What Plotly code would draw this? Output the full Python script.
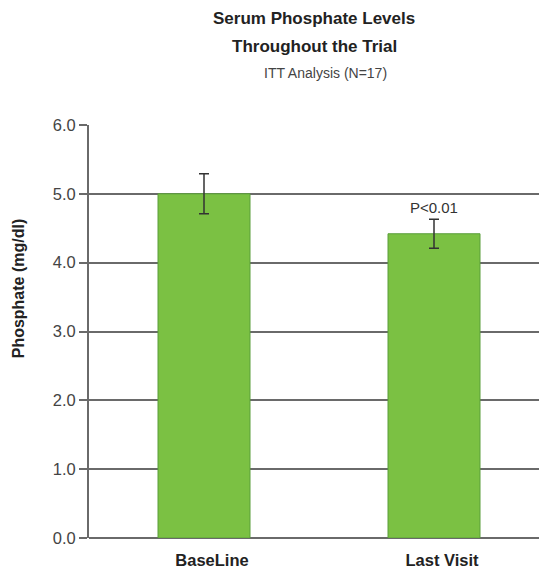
import plotly.graph_objects as go

categories = ["BaseLine", "Last Visit"]
values = [5.0, 4.42]
errors = [0.29, 0.21]
tick_vals = [0, 1, 2, 3, 4, 5, 6]
tick_text = ["0.0", "1.0", "2.0", "3.0", "4.0", "5.0", "6.0"]
p_label = "P<0.01"
title_lines = ["Serum Phosphate Levels", "Throughout the Trial", "ITT Analysis (N=17)"]
y_title = "Phosphate (mg/dl)"

FONT = "Liberation Sans, Arial, Helvetica, sans-serif"

fig = go.Figure()
fig.add_trace(go.Bar(
    x=categories, y=values, width=0.4,
    marker=dict(color="#7bc143", line=dict(color="#5a9e3a", width=1)),
    error_y=dict(type="data", array=errors, visible=True, color="#333333",
                 thickness=1.5, width=5),
))
fig.add_annotation(x=categories[1], y=values[1] + errors[1], text=p_label,
                   showarrow=False, yanchor="bottom", yshift=1,
                   font=dict(family=FONT, size=15, color="#333333"))

# title lines
fig.add_annotation(xref="paper", yref="paper", x=0.49, y=1.259, text="<b>" + title_lines[0] + "</b>",
                   showarrow=False, xanchor="center", yanchor="middle",
                   font=dict(family=FONT, size=17, color="#222222"))
fig.add_annotation(xref="paper", yref="paper", x=0.49, y=1.189, text="<b>" + title_lines[1] + "</b>",
                   showarrow=False, xanchor="center", yanchor="middle",
                   font=dict(family=FONT, size=17, color="#222222"))
fig.add_annotation(xref="paper", yref="paper", x=0.515, y=1.126, text=title_lines[2],
                   showarrow=False, xanchor="center", yanchor="middle",
                   font=dict(family=FONT, size=14, color="#444444"))
# y-axis title
fig.add_annotation(xref="paper", yref="paper", x=-0.154, y=0.605, text="<b>" + y_title + "</b>",
                   showarrow=False, xanchor="center", yanchor="middle", textangle=-90,
                   font=dict(family=FONT, size=16, color="#222222"))

fig.update_layout(
    width=547, height=575,
    margin=dict(l=81, r=6, t=117, b=45),
    plot_bgcolor="white", paper_bgcolor="white",
    showlegend=False,
    xaxis=dict(range=[-0.5, 1.5], showgrid=False, showline=False, ticks="",
               ticklabelstandoff=10, ticklabelshift=8,
               tickfont=dict(family=FONT, size=16.5, color="#222222"),
               tickprefix="<b>", ticksuffix="</b>"),
    yaxis=dict(range=[0, 6], tickvals=tick_vals, ticktext=tick_text,
               showgrid=True, gridcolor="#6a6a6a", gridwidth=2,
               showline=True, linecolor="#6a6a6a", linewidth=2,
               ticks="outside", ticklen=8, tickcolor="#6a6a6a", tickwidth=2,
               zeroline=True, zerolinecolor="#6a6a6a", zerolinewidth=2,
               tickfont=dict(family=FONT, size=16.5, color="#444444")),
)
fig.write_html("out.html")
